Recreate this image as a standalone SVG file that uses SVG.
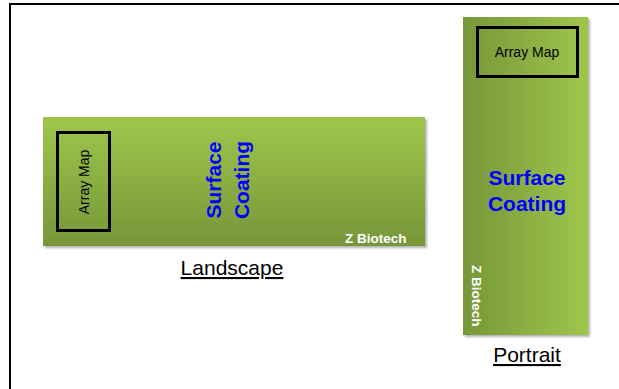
<svg xmlns="http://www.w3.org/2000/svg" width="619" height="389" viewBox="0 0 619 389">
<defs>
<linearGradient id="gV" x1="0" y1="0" x2="0" y2="1"><stop offset="0" stop-color="#9ec64b"/><stop offset="1" stop-color="#779639"/></linearGradient>
<linearGradient id="gH" x1="0" y1="0" x2="1" y2="0"><stop offset="0" stop-color="#779639"/><stop offset="1" stop-color="#9ec64b"/></linearGradient>
<filter id="sh" x="-5%" y="-5%" width="115%" height="115%"><feDropShadow dx="2" dy="2" stdDeviation="1.2" flood-color="#000" flood-opacity="0.3"/></filter>
<style>
.box{fill:none;stroke:#000;stroke-width:3}
.am{font-family:"Liberation Sans",Arial,sans-serif;font-size:14px;fill:#000;text-anchor:middle}
.sc{font-family:"Liberation Sans",Arial,sans-serif;font-size:21px;font-weight:bold;fill:#0000ff;text-anchor:middle}
.zb{font-family:"Liberation Sans",Arial,sans-serif;font-size:13.5px;font-weight:bold;fill:#fff}
.lbl{font-family:"Liberation Sans",Arial,sans-serif;font-size:21px;fill:#000;text-anchor:middle;text-decoration:underline}
</style>
</defs>
<path d="M10,389 V4 H619" fill="none" stroke="#000" stroke-width="2"/>
<g id="landscape">
<rect x="43" y="117" width="382" height="129" fill="url(#gV)" filter="url(#sh)"/>
<rect class="box" x="57.5" y="132.5" width="52" height="98"/>
<text class="am" transform="translate(89,182) rotate(-90)">Array Map</text>
<text class="sc" transform="translate(221,180) rotate(-90)">Surface</text>
<text class="sc" transform="translate(249,180) rotate(-90)">Coating</text>
<text class="zb" x="345" y="243">Z Biotech</text>
<text class="lbl" x="232" y="275">Landscape</text>
</g>
<g id="portrait">
<rect x="463" y="17" width="125" height="318" fill="url(#gH)" filter="url(#sh)"/>
<rect class="box" x="477.5" y="27.5" width="100" height="49"/>
<text class="am" x="527" y="57">Array Map</text>
<text class="sc" x="527" y="185">Surface</text>
<text class="sc" x="527" y="211">Coating</text>
<text class="zb" transform="translate(472,265) rotate(90)">Z Biotech</text>
<text class="lbl" x="527" y="362">Portrait</text>
</g>
<g id="connectors"/>
</svg>
